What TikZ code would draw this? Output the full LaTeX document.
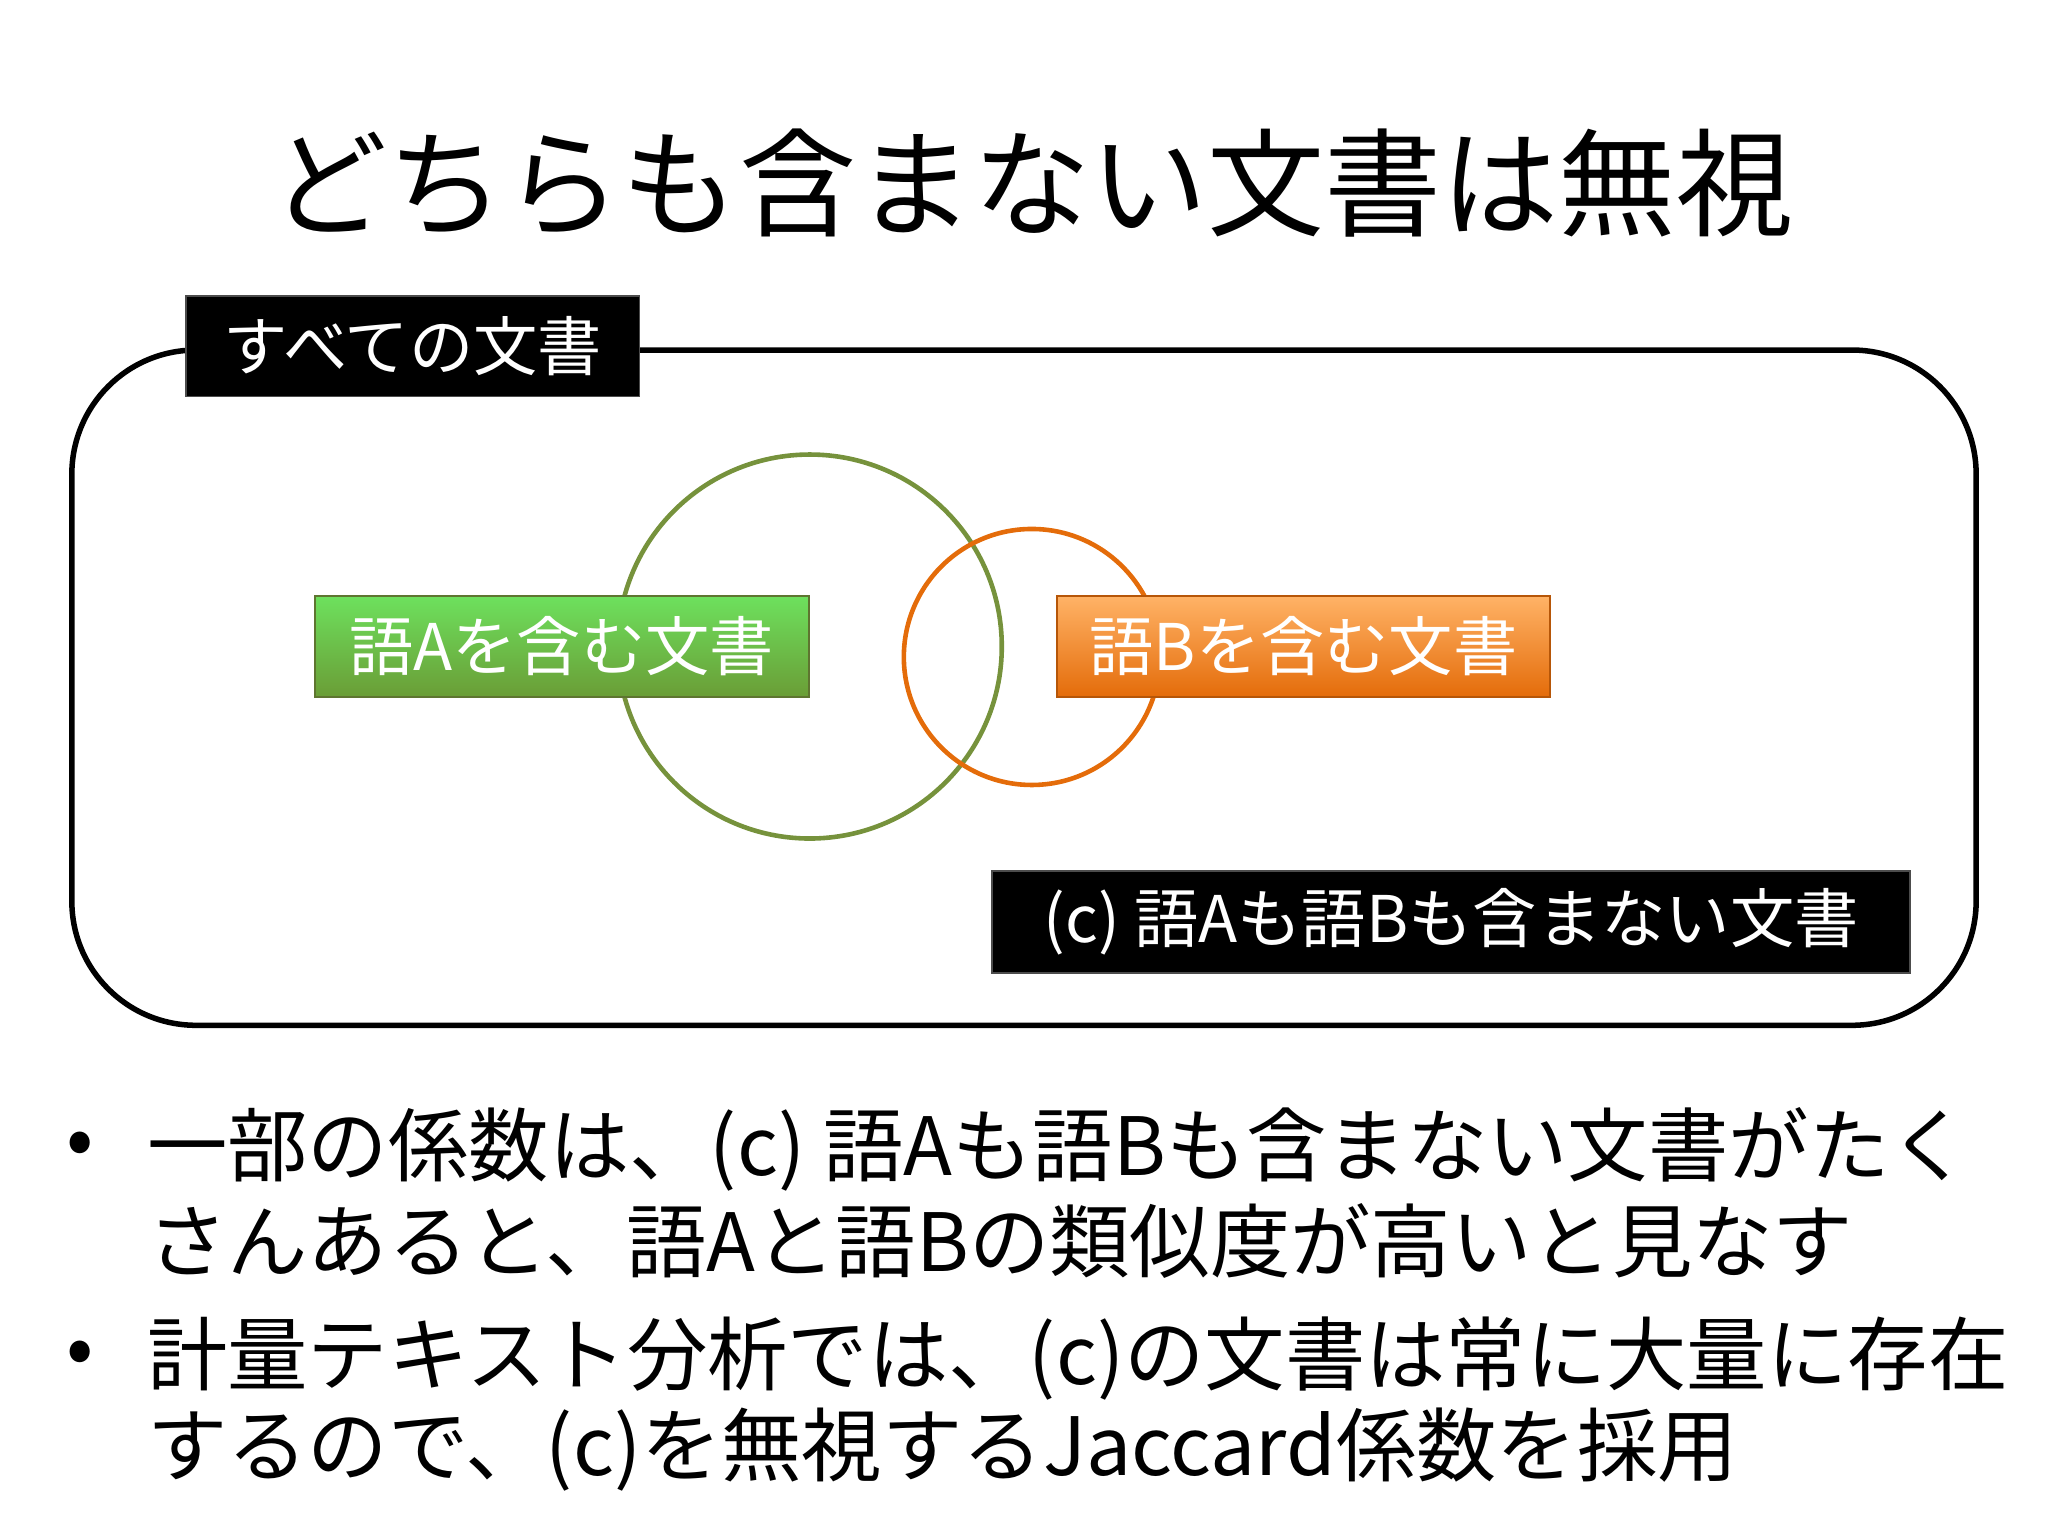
\documentclass[tikz,border=0pt]{standalone}
\usepackage{fontspec}
\setmainfont{Noto Sans CJK JP}
\begin{document}
\begin{tikzpicture}[x=0.01cm,y=-0.01cm,
  blk/.style={fill=black,draw=black!70,text=white,inner sep=0pt,font=\fontsize{14}{16}\selectfont},
  bul/.style={anchor=west,inner sep=0pt,font=\fontsize{17.5}{20}\selectfont}]
\useasboundingbox (0,0) rectangle (1568,1176);
\definecolor{olv}{RGB}{118,146,60}
\definecolor{org}{RGB}{228,108,10}
\node (title) at (790,140) {\fontsize{25.5}{28}\selectfont どちらも含まない文書は無視};
\draw[line width=1.2pt,rounded corners=0.95cm] (55,268) rectangle (1513,785);
\node[blk,minimum width=347\pgflinewidth] (all) at (316,265) [minimum width=3.47cm,minimum height=0.77cm] {すべての文書};
\draw[olv,line width=1pt] (620,495) circle (147);
\draw[org,line width=1pt] (790,503) circle (98);
\node[draw=olv!80!black,top color=olv!40!green!70!white,bottom color=olv!90!green,text=white,minimum width=3.78cm,minimum height=0.77cm,inner sep=0pt,font=\fontsize{14}{16}\selectfont] (a) at (430,495) {語Aを含む文書};
\node[draw=org!80!black,top color=orange!60!white,bottom color=org,text=white,minimum width=3.77cm,minimum height=0.77cm,inner sep=0pt,font=\fontsize{14}{16}\selectfont] (b) at (998,495) {語Bを含む文書};
\node[blk,minimum width=7.02cm,minimum height=0.78cm] (c) at (1111,706) {(c) 語Aも語Bも含まない文書};
\node[bul] (d1) at (50,880) {•};
\node[bul] (d2) at (50,1040) {•};
\node[bul] (l1) at (112,880) {一部の係数は、(c) 語Aも語Bも含まない文書がたく};
\node[bul] (l2) at (112,950) {さんあると、語Aと語Bの類似度が高いと見なす};
\node[bul] (l3) at (112,1040) {計量テキスト分析では、(c)の文書は常に大量に存在};
\node[bul] (l4) at (112,1110) {するので、(c)を無視するJaccard係数を採用};
\end{tikzpicture}
\end{document}
